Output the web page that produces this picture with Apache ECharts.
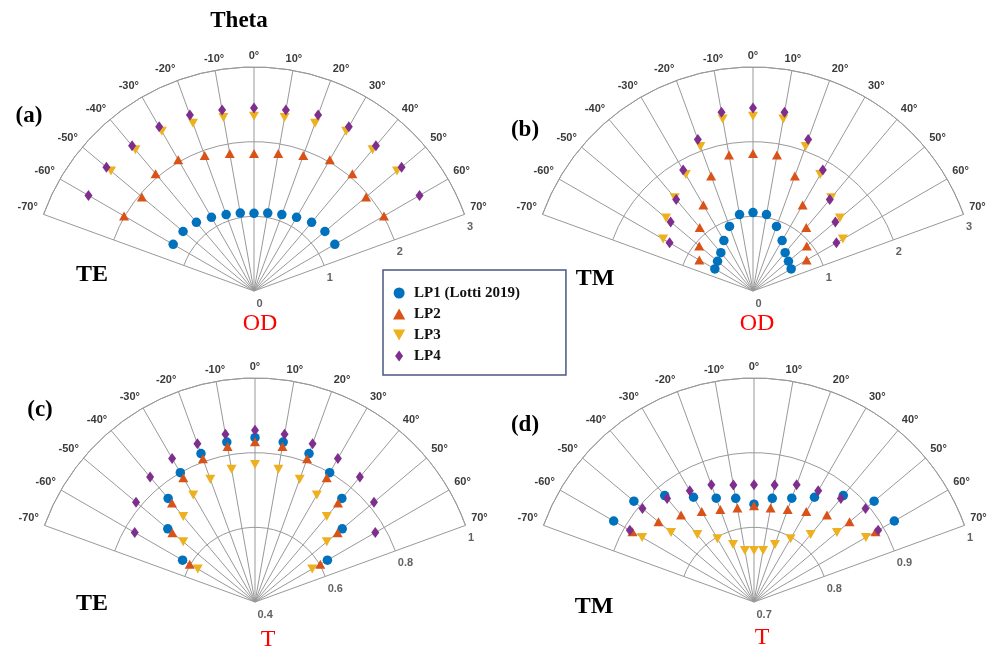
<!DOCTYPE html>
<html><head><meta charset="utf-8">
<script src="https://cdn.jsdelivr.net/npm/echarts@6/dist/echarts.min.js"></script>
<style>html,body{margin:0;padding:0;background:#fff}#c{width:995px;height:653px}</style>
</head><body><div id="c"></div>
<script>
// ---------- data ----------
const seriesNames = ['LP1 (Lotti 2019)', 'LP2', 'LP3', 'LP4'];
const angles13 = [-60, -50, -40, -30, -20, -10, 0, 10, 20, 30, 40, 50, 60];
const angles11 = [-50, -40, -30, -20, -10, 0, 10, 20, 30, 40, 50];

// (a) OD, TE
const odTE_LP1 = [1.25, 1.24, 1.20, 1.14, 1.09, 1.06, 1.04, 1.06, 1.09, 1.14, 1.20, 1.24, 1.25];
const odTE_LP2 = [2.01, 1.96, 2.05, 2.03, 1.93, 1.87, 1.84, 1.87, 1.93, 2.03, 2.05, 1.96, 2.01];
const odTE_LP3 = [2.50, 2.47, 2.47, 2.39, 2.36, 2.34, 2.36, 2.39, 2.47, 2.47, 2.50];
const odTE_LP4 = [2.56, 2.58, 2.54, 2.54, 2.51, 2.46, 2.45, 2.46, 2.51, 2.54, 2.54, 2.58, 2.56];

// (b) OD, TM
const odTM_LP1 = [0.59, 0.62, 0.67, 0.78, 0.92, 1.04, 1.05, 1.04, 0.92, 0.78, 0.67, 0.62, 0.59];
const odTM_LP2 = [0.83, 0.94, 1.11, 1.33, 1.64, 1.85, 1.84, 1.85, 1.64, 1.33, 1.11, 0.94, 0.83];
const odTM_LP3 = [1.39, 1.52, 1.63, 1.80, 2.06, 2.34, 2.34, 2.34, 2.06, 1.80, 1.63, 1.52, 1.39];
const odTM_LP4 = [1.29, 1.44, 1.60, 1.87, 2.16, 2.43, 2.45, 2.43, 2.16, 1.87, 1.60, 1.44, 1.29];

// (c) T, TE
const tTE_LP1 = [0.624, 0.705, 0.762, 0.800, 0.823, 0.835, 0.840, 0.835, 0.823, 0.800, 0.762, 0.705, 0.624];
const tTE_LP2 = [0.602, 0.689, 0.746, 0.784, 0.808, 0.823, 0.829, 0.823, 0.808, 0.784, 0.746, 0.689, 0.602];
const tTE_LP3 = [0.577, 0.651, 0.699, 0.731, 0.750, 0.761, 0.768, 0.761, 0.750, 0.731, 0.699, 0.651, 0.577];
const tTE_LP4 = [0.772, 0.816, 0.837, 0.844, 0.851, 0.856, 0.860, 0.856, 0.851, 0.844, 0.837, 0.816, 0.772];

// (d) T, TM
const tTM_LP1 = [0.917, 0.910, 0.886, 0.862, 0.848, 0.841, 0.831, 0.841, 0.848, 0.862, 0.886, 0.910, 0.917];
const tTM_LP2 = [0.888, 0.867, 0.852, 0.840, 0.832, 0.828, 0.829, 0.828, 0.832, 0.840, 0.852, 0.867, 0.888];
const tTM_LP3 = [0.873, 0.845, 0.818, 0.798, 0.782, 0.770, 0.769, 0.770, 0.782, 0.798, 0.818, 0.845, 0.873];
const tTM_LP4 = [0.892, 0.895, 0.881, 0.872, 0.867, 0.859, 0.857, 0.859, 0.867, 0.872, 0.881, 0.895, 0.892];

// radial tick labels
const odTicks = [0, 1, 2, 3];
const odTickLabels = ['0', '1', '2', '3'];
const tTETicks = [0.4, 0.6, 0.8, 1];
const tTETickLabels = ['0.4', '0.6', '0.8', '1'];
const tTMTicks = [0.7, 0.8, 0.9, 1];
const tTMTickLabels = ['0.7', '0.8', '0.9', '1'];

// ---------- styling ----------
const colors = ['#0072BD', '#D95319', '#EDB120', '#7E2F8E'];
const symbols = ['circle', 'triangle', 'triangle', 'diamond'];
const symbolSizes = [9.5, [10, 9], [10, 9], [8, 11]];
const rotations = [0, 0, 180, 0];
const legendIcons = ['circle', 'path://M5,0L10,9L0,9Z', 'path://M0,0L10,0L5,9Z', 'path://M4,0L8,5.5L4,11L0,5.5Z'];
const gridColor = '#999999';
const sans = '"Liberation Sans", Arial, sans-serif';
const serif = '"Liberation Serif", "Times New Roman", serif';

const panels = [
  { center: [254, 291], min: 0, max: 3, interval: 1, ticks: odTicks, tickLabels: odTickLabels,
    data: [[angles13, odTE_LP1], [angles13, odTE_LP2], [angles11, odTE_LP3], [angles13, odTE_LP4]] },
  { center: [753, 291], min: 0, max: 3, interval: 1, ticks: odTicks, tickLabels: odTickLabels,
    data: [[angles13, odTM_LP1], [angles13, odTM_LP2], [angles13, odTM_LP3], [angles13, odTM_LP4]] },
  { center: [255, 602], min: 0.4, max: 1, interval: 0.2, ticks: tTETicks, tickLabels: tTETickLabels,
    data: [[angles13, tTE_LP1], [angles13, tTE_LP2], [angles13, tTE_LP3], [angles13, tTE_LP4]] },
  { center: [754, 602], min: 0.7, max: 1, interval: 0.1, ticks: tTMTicks, tickLabels: tTMTickLabels,
    data: [[angles13, tTM_LP1], [angles13, tTM_LP2], [angles13, tTM_LP3], [angles13, tTM_LP4]] }
];

const tickFont = { fontFamily: sans, fontSize: 11, fontWeight: 'bold', color: '#3a3a3a' };

const series = [];
panels.forEach((p, pi) => {
  p.data.forEach((d, si) => {
    series.push({
      type: 'scatter', name: seriesNames[si], coordinateSystem: 'polar', polarIndex: pi,
      symbol: symbols[si], symbolSize: symbolSizes[si], symbolRotate: rotations[si],
      itemStyle: { color: colors[si], opacity: 1 },
      emphasis: { disabled: true }, z: 3 + si,
      data: d[0].map((a, k) => [d[1][k], a])
    });
  });
  series.push({
    type: 'scatter', name: 'rticks' + pi, coordinateSystem: 'polar', polarIndex: pi,
    symbol: 'circle', symbolSize: 1, itemStyle: { color: 'rgba(0,0,0,0)' }, silent: true,
    emphasis: { disabled: true }, z: 10,
    label: Object.assign({ show: true, position: [3, 13], align: 'left', verticalAlign: 'middle',
      formatter: (q) => p.tickLabels[q.dataIndex] }, tickFont),
    data: p.ticks.map(t => [t, 70])
  });
});

const texts = [
  ['Theta', 239, 21, 'bold 23px ' + serif, '#000'],
  ['(a)', 29, 116, 'bold 23px ' + serif, '#000'],
  ['(b)', 525, 130, 'bold 23px ' + serif, '#000'],
  ['(c)', 40, 410, 'bold 23px ' + serif, '#000'],
  ['(d)', 525, 425, 'bold 23px ' + serif, '#000'],
  ['TE', 92, 275, 'bold 24px ' + serif, '#000'],
  ['TM', 595, 279, 'bold 24px ' + serif, '#000'],
  ['TE', 92, 604, 'bold 24px ' + serif, '#000'],
  ['TM', 594, 607, 'bold 24px ' + serif, '#000'],
  ['OD', 260, 324, '24px ' + serif, '#ff0000'],
  ['OD', 757, 324, '24px ' + serif, '#ff0000'],
  ['T', 268, 640, '24px ' + serif, '#ff0000'],
  ['T', 762, 638, '24px ' + serif, '#ff0000']
];

const option = {
  animation: false,
  backgroundColor: '#fff',
  polar: panels.map(p => ({ center: p.center, radius: [0, 224] })),
  angleAxis: panels.map((p, i) => ({
    polarIndex: i, type: 'value', min: -70, max: 70, interval: 10,
    startAngle: 160, endAngle: 20, clockwise: true,
    axisLine: { show: true, lineStyle: { color: gridColor, width: 1 } },
    axisTick: { show: false },
    axisLabel: Object.assign({ show: true, margin: 6, formatter: v => v + '°' }, tickFont),
    splitLine: { show: true, lineStyle: { color: gridColor, width: 1 } }
  })),
  radiusAxis: panels.map((p, i) => ({
    polarIndex: i, type: 'value', min: p.min, max: p.max, interval: p.interval,
    axisLine: { show: false }, axisTick: { show: false }, axisLabel: { show: false },
    splitLine: { show: true, lineStyle: { color: gridColor, width: 1 } }
  })),
  legend: {
    data: seriesNames.map((n, i) => ({ name: n, icon: legendIcons[i], itemStyle: { color: colors[i] } })),
    orient: 'vertical', left: 383, top: 270,
    padding: [15, 46, 11, 10], itemWidth: 20, itemHeight: 11, itemGap: 5,
    borderColor: '#4a5785', borderWidth: 1.5, backgroundColor: '#fff',
    selectedMode: false,
    textStyle: { fontFamily: serif, fontWeight: 'bold', fontSize: 15, color: '#111', lineHeight: 16 }
  },
  graphic: texts.map(t => ({
    type: 'text', x: t[1], y: t[2], z: 100,
    style: { text: t[0], font: t[3], fill: t[4], align: 'center', verticalAlign: 'middle' }
  })),
  series: series
};

const chart = echarts.init(document.getElementById('c'), null, { renderer: 'canvas' });
chart.setOption(option);
</script></body></html>
